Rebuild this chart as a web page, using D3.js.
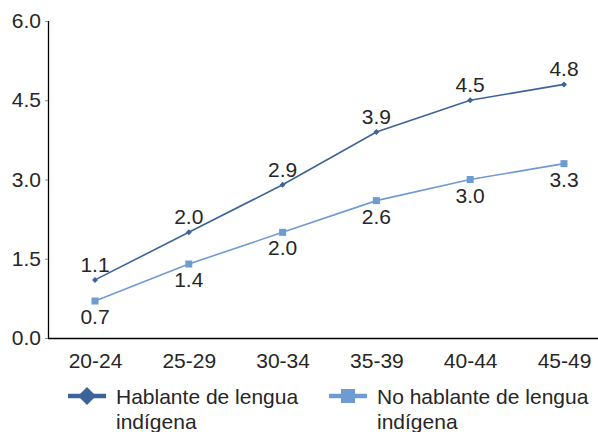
<!DOCTYPE html>
<html><head><meta charset="utf-8">
<script src="https://cdn.jsdelivr.net/npm/d3@7"></script>
<style>body{margin:0;background:#fff}svg{display:block;font-family:"Liberation Sans",Arial,sans-serif}</style>
</head><body><div id="chart"></div>
<script>
const categories = ["20-24","25-29","30-34","35-39","40-44","45-49"];
const hablante = [1.1, 2.0, 2.9, 3.9, 4.5, 4.8];
const noHablante = [0.7, 1.4, 2.0, 2.6, 3.0, 3.3];
const yTicks = [0, 1.5, 3.0, 4.5, 6.0];
const colors = ["#3c6499", "#6f9bd3"];

const W = 598, H = 432;
const FS = 21;
const svg = d3.select("#chart").append("svg").attr("width", W).attr("height", H);
const x = d3.scalePoint().domain(categories).range([95, 564]);
const y = d3.scaleLinear().domain([0, 6]).range([338, 21]);
const textColor = "#262626";

// y axis
const yAxis = svg.append("g").attr("transform", "translate(48,0)")
  .call(d3.axisLeft(y).tickValues(yTicks).tickFormat(d3.format(".1f")).tickSize(3).tickPadding(4));
yAxis.select(".domain").attr("stroke", "#000").attr("stroke-width", 1.3).attr("d", "M0.5,21V338.5");
yAxis.selectAll(".tick line").attr("stroke", "#888");
yAxis.selectAll(".tick text").attr("font-size", FS).attr("fill", textColor).attr("font-family", "Liberation Sans, Arial, sans-serif");

// x axis
const xAxis = svg.append("g").attr("transform", "translate(0,338)")
  .call(d3.axisBottom(x).tickSize(0).tickPadding(12));
xAxis.select(".domain").attr("stroke", "#000").attr("stroke-width", 1.3).attr("d", "M48,0.5H598");
xAxis.selectAll(".tick text").attr("font-size", FS).attr("fill", textColor)
  .attr("font-family", "Liberation Sans, Arial, sans-serif").attr("dy", 0).attr("y", 30);

const line = d3.line().x((d, i) => x(categories[i])).y(d => y(d));

// series 2 (light)
svg.append("path").datum(noHablante).attr("d", line).attr("fill", "none").attr("stroke", colors[1]).attr("stroke-width", 1.6);
svg.selectAll(".sq").data(noHablante).enter().append("rect")
  .attr("x", (d, i) => x(categories[i]) - 3.5).attr("y", d => y(d) - 3.5)
  .attr("width", 7).attr("height", 7).attr("fill", colors[1]);
svg.selectAll(".lbl2").data(noHablante).enter().append("text")
  .attr("x", (d, i) => x(categories[i])).attr("y", d => y(d) + 23)
  .attr("text-anchor", "middle").attr("font-size", FS).attr("fill", textColor)
  .text(d => d.toFixed(1));

// series 1 (dark)
svg.append("path").datum(hablante).attr("d", line).attr("fill", "none").attr("stroke", colors[0]).attr("stroke-width", 1.6);
const dPath = r => `M0,${-r}L${r},0L0,${r}L${-r},0Z`;
svg.selectAll(".dm").data(hablante).enter().append("path")
  .attr("transform", (d, i) => `translate(${x(categories[i])},${y(d)})`)
  .attr("d", dPath(3)).attr("fill", colors[0]);
svg.selectAll(".lbl1").data(hablante).enter().append("text")
  .attr("x", (d, i) => x(categories[i])).attr("y", d => y(d) - 8)
  .attr("text-anchor", "middle").attr("font-size", FS).attr("fill", textColor)
  .text(d => d.toFixed(1));

// legend
const leg = [
  {x0: 68, tx: 116, lines: ["Hablante de lengua", "indígena"], sym: "diamond"},
  {x0: 329, tx: 377, lines: ["No hablante de lengua", "indígena"], sym: "square"}
];
leg.forEach((L, i) => {
  const g = svg.append("g");
  g.append("line").attr("x1", L.x0).attr("x2", L.x0 + 38).attr("y1", 396).attr("y2", 396)
    .attr("stroke", colors[i]).attr("stroke-width", 4.5);
  if (L.sym === "diamond") {
    g.append("path").attr("transform", `translate(${L.x0 + 19},396)`)
      .attr("d", dPath(9)).attr("fill", colors[i]);
  } else {
    g.append("rect").attr("x", L.x0 + 12).attr("y", 389).attr("width", 14).attr("height", 14).attr("fill", colors[i]);
  }
  L.lines.forEach((t, j) => {
    g.append("text").attr("x", L.tx).attr("y", 404 + j * 25).attr("font-size", FS).attr("fill", textColor).text(t);
  });
});
</script></body></html>
